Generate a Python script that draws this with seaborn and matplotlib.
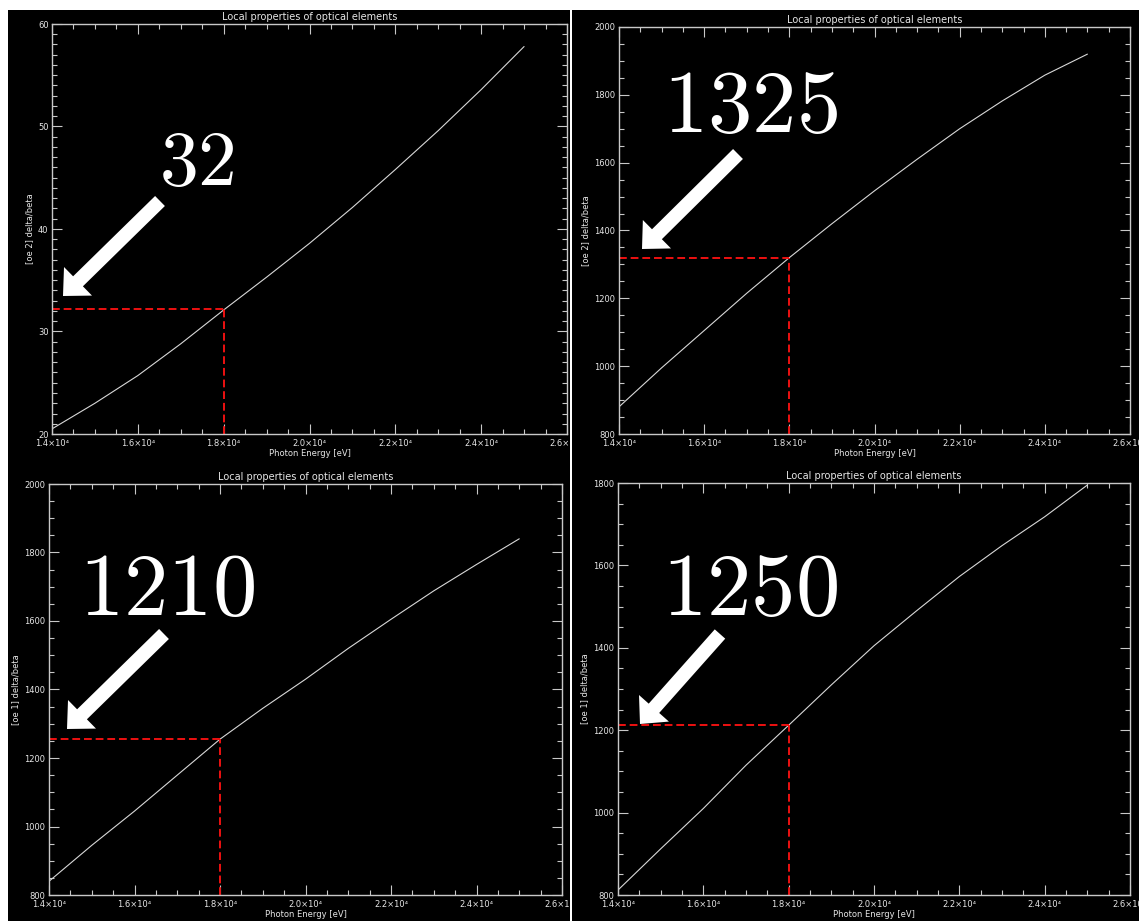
import matplotlib
matplotlib.use("Agg")
import matplotlib.pyplot as plt
import seaborn as sns
from matplotlib.patches import Rectangle, FancyArrow
from matplotlib.ticker import MultipleLocator, FuncFormatter

# ── data ────────────────────────────────────────────────────────────
energy = [14000, 15000, 16000, 17000, 18000, 19000,
          20000, 21000, 22000, 23000, 24000, 25000]

oe2_low = [20.5, 23.0, 25.7, 28.8, 32.1, 35.3, 38.6, 42.1, 45.8, 49.6, 53.6, 57.8]
oe2_high = [880, 995, 1105, 1215, 1320, 1420, 1517, 1610, 1700, 1782, 1858, 1920]
oe1_a = [840, 945, 1045, 1150, 1255, 1345, 1430, 1520, 1605, 1688, 1765, 1840]
oe1_b = [812, 912, 1010, 1115, 1212, 1310, 1405, 1490, 1573, 1648, 1718, 1795]

ylabels = ["[oe 2] delta/beta", "[oe 2] delta/beta", "[oe 1] delta/beta", "[oe 1] delta/beta"]
ylims = [(20, 60), (800, 2000), (800, 2000), (800, 1800)]
ymajor = [10, 200, 200, 200]
yminor = [1, 50, 50, 50]
mark_energy = 18000
mark_values = [32.2, 1320, 1255, 1212]
big_labels = ["32", "1325", "1210", "1250"]

# ── layout in pixels (image coords, origin top-left) ────────────────
W, H = 1139, 921
axes_px = [(52, 24, 567, 434), (619, 27, 1130, 434),
           (49, 484, 562, 895), (618, 483, 1130, 895)]
panels_px = [(8, 10, 571, 470), (571, 10, 1139, 470),
             (8, 466, 571, 921), (571, 466, 1139, 921)]
label_pos = [(197, 185, 56), (751, 132, 64), (167, 615, 64), (750, 615, 64)]
arrows_px = [((160, 201), (63, 296)), ((738, 154), (642, 249)),
             ((164, 634), (67, 729)), ((720, 634), (640, 724))]

fg = "#e6e6e6"
sns.set_style("ticks")
plt.rcParams["font.family"] = ["DejaVu Sans"]
plt.rcParams["mathtext.fontset"] = "cm"

fig = plt.figure(figsize=(W / 100, H / 100), dpi=100, facecolor="white")
inch = fig.dpi_scale_trans


def to_in(x, y):
    return x / 100, (H - y) / 100


series = [oe2_low, oe2_high, oe1_a, oe1_b]
for i in range(4):
    col = i % 2
    # black panel background (right column drawn above left axes to crop labels)
    l, t, r, b = panels_px[i]
    x0, y0 = to_in(l, b)
    fig.add_artist(Rectangle((x0, y0), (r - l) / 100, (b - t) / 100,
                             facecolor="black", edgecolor="none",
                             transform=inch, zorder=-1 + 1.5 * col))

    l, t, r, b = axes_px[i]
    ax = fig.add_axes([l / W, 1 - b / H, (r - l) / W, (b - t) / H])
    ax.set_zorder(0 + 2 * col)
    ax.set_facecolor("black")

    sns.lineplot(x=energy, y=series[i], ax=ax, color="#d8d8d8", linewidth=0.8)

    v = mark_values[i]
    ax.hlines(v, 14000, mark_energy, colors="#ee1111", linestyles=(0, (4, 2)), linewidth=1.4)
    ax.vlines(mark_energy, ylims[i][0], v, colors="#ee1111", linestyles=(0, (4, 2)), linewidth=1.4)

    ax.set_xlim(14000, 26000)
    ax.set_ylim(*ylims[i])
    ax.xaxis.set_major_locator(MultipleLocator(2000))
    ax.xaxis.set_minor_locator(MultipleLocator(500))
    ax.yaxis.set_major_locator(MultipleLocator(ymajor[i]))
    ax.yaxis.set_minor_locator(MultipleLocator(yminor[i]))
    ax.xaxis.set_major_formatter(FuncFormatter(lambda val, pos: f"{val / 1e4:.1f}×10⁴"))
    ax.tick_params(which="both", direction="in", top=True, right=True,
                   colors="#c8c8c8", labelcolor=fg, labelsize=6, width=0.8)
    ax.tick_params(which="major", length=7)
    ax.tick_params(which="minor", length=3.5)
    ax.tick_params(axis="x", which="major", pad=3.5)
    ax.tick_params(axis="y", which="major", pad=2.5)
    for s in ax.spines.values():
        s.set_color("#c8c8c8")
        s.set_linewidth(1.0)

    ax.set_title("Local properties of optical elements", color=fg, fontsize=7, pad=3)
    ax.set_xlabel("Photon Energy [eV]", color=fg, fontsize=6, labelpad=1)
    ax.set_ylabel(ylabels[i], color=fg, fontsize=6, labelpad=3)

    # big value label and white arrow
    lx, ly, fs = label_pos[i]
    tx, ty = to_in(lx, ly)
    fig.text(tx, ty, "$" + big_labels[i] + "$", transform=inch, color="white",
             fontsize=fs, ha="center", va="baseline", zorder=10)

    (sx, sy), (ex, ey) = arrows_px[i]
    sxi, syi = to_in(sx, sy)
    exi, eyi = to_in(ex, ey)
    fig.add_artist(FancyArrow(sxi, syi, exi - sxi, eyi - syi, width=0.14,
                              head_width=0.40, head_length=0.21,
                              length_includes_head=True, facecolor="white",
                              edgecolor="none", transform=inch, zorder=10))

# thin white seam between the two columns of screenshots
fig.add_artist(Rectangle((5.695, 0), 0.02, H / 100, facecolor="white",
                         edgecolor="none", transform=inch, zorder=1.2))

fig.savefig("out.png", dpi=100, facecolor="white")
